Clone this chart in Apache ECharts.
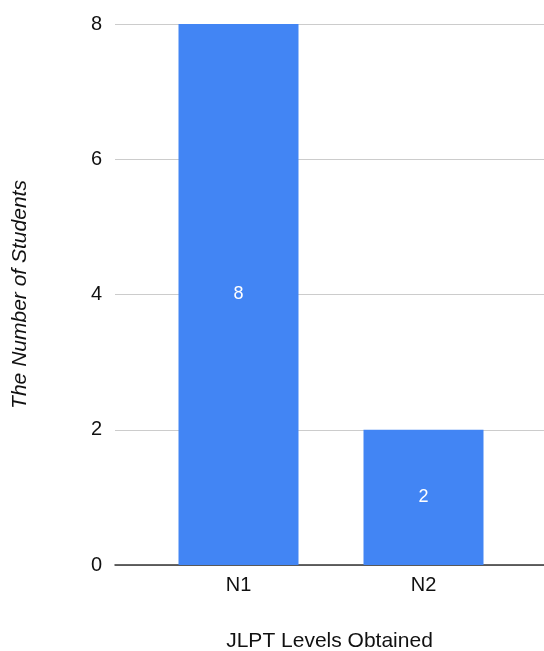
<!DOCTYPE html>
<html>
<head>
<meta charset="utf-8">
<script src="https://cdn.jsdelivr.net/npm/echarts@6/dist/echarts.min.js"></script>
<style>
  html, body { margin: 0; padding: 0; background: #fff; }
  #chart { width: 544px; height: 651px; }
</style>
</head>
<body>
<div id="chart"></div>
<script>
// JLPT levels and how many students obtained each
const levels = ['N1', 'N2'];
const studentCounts = [8, 2];
const yTicks = { min: 0, max: 8, step: 2 };

const FONT = '"Liberation Sans", Arial, Helvetica, sans-serif';
const BLUE = '#4285F4';
const INK = '#111';

const chart = echarts.init(document.getElementById('chart'), null, { renderer: 'canvas' });

chart.setOption({
  animation: false,
  textStyle: { fontFamily: FONT },
  grid: [
    // frame grid: gridlines, y labels, baseline and axis titles
    { left: 115, right: 0, top: 24, bottom: 86, containLabel: false, outerBoundsMode: 'none' },
    // bar grid: narrower band holding the two category slots
    { left: 146, right: 28, top: 24, bottom: 86, containLabel: false, outerBoundsMode: 'none' }
  ],
  xAxis: [
    {
      gridIndex: 0, type: 'value', min: 0, max: 1, z: 0,
      axisLine: { show: true, onZero: false, lineStyle: { color: '#333', width: 1.5 } },
      axisTick: { show: false }, axisLabel: { show: false }, splitLine: { show: false },
      name: 'JLPT Levels Obtained', nameLocation: 'middle', nameGap: 66,
      nameTextStyle: { fontSize: 21, color: INK, fontFamily: FONT }
    },
    {
      gridIndex: 1, type: 'category', data: levels,
      axisLine: { show: false }, axisTick: { show: false },
      axisLabel: { fontSize: 20, color: INK, margin: 10, fontFamily: FONT }
    }
  ],
  yAxis: [
    {
      gridIndex: 0, type: 'value', min: yTicks.min, max: yTicks.max, interval: yTicks.step,
      axisLine: { show: false }, axisTick: { show: false },
      axisLabel: { fontSize: 20, color: INK, margin: 13, fontFamily: FONT },
      splitLine: { lineStyle: { color: '#cccccc', width: 1 } },
      name: 'The Number of Students', nameLocation: 'middle', nameGap: 84, nameRotate: 90,
      nameTextStyle: { fontSize: 21, fontStyle: 'italic', color: INK, fontFamily: FONT }
    },
    {
      gridIndex: 1, type: 'value', min: yTicks.min, max: yTicks.max, interval: yTicks.step,
      show: false
    }
  ],
  series: [
    {
      type: 'bar', xAxisIndex: 1, yAxisIndex: 1, z: 10,
      data: studentCounts,
      barWidth: 120,
      itemStyle: { color: BLUE },
      label: {
        show: true, position: 'inside', color: '#fff', fontSize: 18, fontFamily: FONT
      }
    }
  ]
});
</script>
</body>
</html>
